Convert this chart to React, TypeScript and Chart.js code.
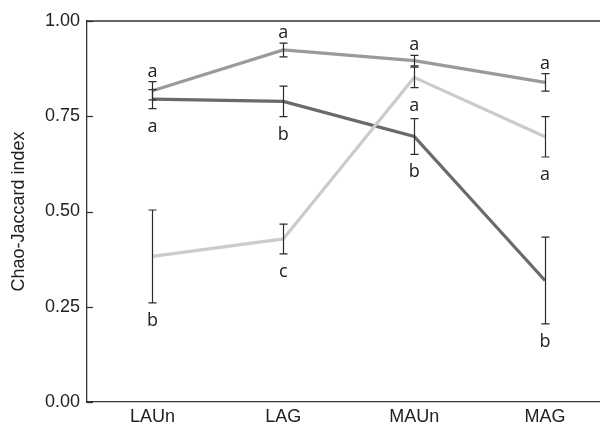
import React, { useEffect, useRef } from "react";
import { Chart, registerables } from "chart.js";

Chart.register(...registerables);

const categories = ["LAUn", "LAG", "MAUn", "MAG"];
const yTicks = [0, 0.25, 0.5, 0.75, 1.0];

const upperMean = [0.817, 0.924, 0.896, 0.839];
const upperErr = [0.024, 0.018, 0.014, 0.023];
const upperLetters = ["a", "a", "a", "a"];

const darkMean = [0.795, 0.789, 0.697, 0.319];
const darkErr = [0.025, 0.04, 0.047, 0.114];
const darkLetters = ["a", "b", "b", "b"];

const lightMean = [0.382, 0.428, 0.852, 0.696];
const lightErr = [0.122, 0.039, 0.027, 0.053];
const lightLetters = ["b", "c", "a", "a"];

const series = [
  { mean: upperMean, err: upperErr, letters: upperLetters, pos: "above", color: "#9a9a9a" },
  { mean: darkMean, err: darkErr, letters: darkLetters, pos: "below", color: "#6a6a6a" },
  { mean: lightMean, err: lightErr, letters: lightLetters, pos: "below", color: "#cbcbcb" },
];

const overlayPlugin = {
  id: "overlay",
  afterDatasetsDraw(chart: any) {
    const { ctx, chartArea, scales } = chart;
    const xs = scales.x;
    const ys = scales.y;
    ctx.save();
    ctx.strokeStyle = "#333";
    ctx.lineWidth = 1.3;
    ctx.beginPath();
    ctx.moveTo(chartArea.left, chartArea.top);
    ctx.lineTo(chartArea.right, chartArea.top);
    ctx.stroke();
    yTicks.forEach((v) => {
      const py = Math.round(ys.getPixelForValue(v)) + 0.5;
      ctx.beginPath();
      ctx.moveTo(chartArea.left, py);
      ctx.lineTo(chartArea.left + 6, py);
      ctx.stroke();
    });
    ctx.strokeStyle = "#2a2a2a";
    ctx.lineWidth = 1.2;
    series.forEach((s) => {
      s.mean.forEach((m, i) => {
        const px = Math.round(xs.getPixelForValue(i)) + 0.5;
        const yTop = ys.getPixelForValue(m + s.err[i]);
        const yBot = ys.getPixelForValue(m - s.err[i]);
        ctx.beginPath();
        ctx.moveTo(px, yTop);
        ctx.lineTo(px, yBot);
        ctx.moveTo(px - 4, yTop);
        ctx.lineTo(px + 4, yTop);
        ctx.moveTo(px - 4, yBot);
        ctx.lineTo(px + 4, yBot);
        ctx.stroke();
      });
    });
    ctx.fillStyle = "#222";
    ctx.font = "18px 'Open Sans'";
    ctx.textAlign = "center";
    ctx.textBaseline = "alphabetic";
    series.forEach((s) => {
      s.mean.forEach((m, i) => {
        const px = xs.getPixelForValue(i);
        if (s.pos === "above") {
          const yTop = ys.getPixelForValue(m + s.err[i]);
          ctx.fillText(s.letters[i], px, yTop - 5);
        } else {
          const yBot = ys.getPixelForValue(m - s.err[i]);
          ctx.fillText(s.letters[i], px, yBot + 23);
        }
      });
    });
    ctx.restore();
  },
};

export default function App() {
  const ref = useRef<HTMLCanvasElement | null>(null);
  useEffect(() => {
    if (!ref.current) return;
    const toPts = (arr: number[]) => arr.map((v, i) => ({ x: i, y: v }));
    const chart = new Chart(ref.current, {
      type: "line",
      data: {
        datasets: [
          { data: toPts(upperMean), borderColor: series[0].color, borderWidth: 3.2, pointRadius: 0, order: 2 },
          { data: toPts(darkMean), borderColor: series[1].color, borderWidth: 3.2, pointRadius: 0, order: 3 },
          { data: toPts(lightMean), borderColor: series[2].color, borderWidth: 3.2, pointRadius: 0, order: 1 },
        ],
      },
      options: {
        animation: false,
        responsive: false,
        maintainAspectRatio: false,
        layout: { padding: { top: 21, right: 0, left: 0, bottom: 0 } },
        plugins: { legend: { display: false }, tooltip: { enabled: false } },
        scales: {
          x: {
            type: "linear",
            min: -0.5,
            max: 3.42,
            afterBuildTicks: (scale: any) => {
              scale.ticks = categories.map((_, i) => ({ value: i }));
            },
            afterFit: (scale: any) => {
              scale.height = 28;
            },
            grid: { display: false, drawTicks: false },
            border: { display: true, color: "#333", width: 1.3 },
            ticks: {
              color: "#222",
              font: { family: "'Liberation Sans', Arial", size: 18 },
              padding: 4,
              maxRotation: 0,
              autoSkip: false,
              callback: (v: any) => categories[v] ?? "",
            },
          },
          y: {
            min: 0,
            max: 1,
            afterBuildTicks: (scale: any) => {
              scale.ticks = yTicks.map((v) => ({ value: v }));
            },
            afterFit: (scale: any) => {
              scale.width = 87;
            },
            grid: { display: false, drawTicks: false },
            border: { display: true, color: "#333", width: 1.3 },
            ticks: {
              color: "#222",
              font: { family: "'Liberation Sans', Arial", size: 18 },
              padding: 7,
              callback: (v: any) => Number(v).toFixed(2),
            },
            title: {
              display: true,
              text: "Chao-Jaccard index",
              color: "#222",
              font: { family: "'Liberation Sans', Arial", size: 18 },
              padding: { top: 8, bottom: 0 },
            },
          },
        },
      },
      plugins: [overlayPlugin],
    });
    return () => chart.destroy();
  }, []);
  return (
    <div style={{ position: "absolute", left: 0, top: 0, width: 600, height: 430, background: "#fff" }}>
      <canvas ref={ref} width={600} height={430} style={{ width: 600, height: 430 }} />
    </div>
  );
}
